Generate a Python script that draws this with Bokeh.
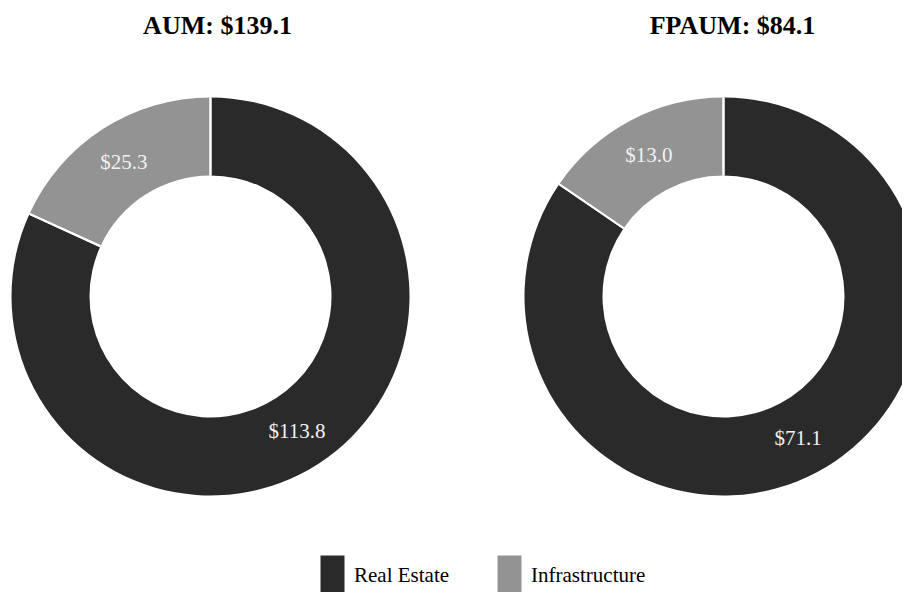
import math
from bokeh.plotting import figure
from bokeh.models import ColumnDataSource, Range1d, Legend, LegendItem
from bokeh.core.properties import value
from bokeh.embed import file_html
from bokeh.resources import INLINE

# ---- data ----
categories = ["Real Estate", "Infrastructure"]
chart_names = ["AUM", "FPAUM"]
real_estate = [113.8, 71.1]
infrastructure = [25.3, 13.0]
colors = ["#2a2a2a", "#939393"]

# ---- layout (pixels of the picture) ----
W, H = 902, 592
centers_x = [210, 723]
center_y_screen = 296
title_x = [217, 732]
title_y_screen = 25
r_in, r_out = 121, 199
r_label = (r_in + r_out) / 2

def sy(y):
    return H - y  # screen y -> data y

p = figure(width=W, height=H, output_backend="svg", toolbar_location=None,
           x_range=Range1d(0, W), y_range=Range1d(0, H),
           x_axis_type=None, y_axis_type=None, min_border=0)
p.outline_line_color = None
p.grid.visible = False
p.background_fill_color = "white"

series = [real_estate, infrastructure]
renderers = []
lab_x, lab_y, lab_t = [], [], []
seg = dict(x0=[], y0=[], x1=[], y1=[])
for ci, cat in enumerate(categories):
    xs, ys, sa, ea = [], [], [], []
    for di in range(len(chart_names)):
        total = real_estate[di] + infrastructure[di]
        frac = series[ci][di] / total
        cx, cy = centers_x[di], sy(center_y_screen)
        if ci == 0:
            start = math.pi / 2 - frac * 2 * math.pi
            end = math.pi / 2
        else:
            start = math.pi / 2
            end = math.pi / 2 + frac * 2 * math.pi
        xs.append(cx); ys.append(cy); sa.append(start); ea.append(end)
        mid = (start + end) / 2
        lab_x.append(cx + r_label * math.cos(mid))
        lab_y.append(cy + r_label * math.sin(mid))
        lab_t.append("$%.1f" % series[ci][di])
        for a in (start, end):
            seg["x0"].append(cx + r_in * math.cos(a))
            seg["y0"].append(cy + r_in * math.sin(a))
            seg["x1"].append(cx + r_out * math.cos(a))
            seg["y1"].append(cy + r_out * math.sin(a))
    src = ColumnDataSource(dict(x=xs, y=ys, sa=sa, ea=ea))
    r = p.annular_wedge(x="x", y="y", inner_radius=r_in, outer_radius=r_out,
                        inner_radius_units="screen", outer_radius_units="screen",
                        start_angle="sa", end_angle="ea", source=src,
                        fill_color=colors[ci], line_color=None)
    renderers.append(r)

p.segment(x0="x0", y0="y0", x1="x1", y1="y1", source=ColumnDataSource(seg),
          line_color="white", line_width=2)

p.text(x=lab_x, y=lab_y, text=lab_t, text_align="center", text_baseline="middle",
       text_font=value("Liberation Serif"), text_font_size="21px", text_color="#f2f2f2")

titles = ["%s: $%.1f" % (n, real_estate[i] + infrastructure[i]) for i, n in enumerate(chart_names)]
p.text(x=title_x, y=[sy(title_y_screen)] * 2, text=titles, text_align="center",
       text_baseline="middle", text_font=value("Liberation Serif"),
       text_font_size="26px", text_font_style="bold", text_color="#000000")

legend = Legend(items=[LegendItem(label=c, renderers=[renderers[i]]) for i, c in enumerate(categories)],
                orientation="horizontal", location=(317, -8),
                glyph_width=30, glyph_height=50, label_standoff=7, spacing=45,
                padding=0, margin=0, border_line_color=None, background_fill_alpha=0,
                label_text_font="Liberation Serif", label_text_font_size="21px",
                label_text_color="#000000")
p.add_layout(legend)

open("out.html", "w").write(file_html(p, INLINE))
